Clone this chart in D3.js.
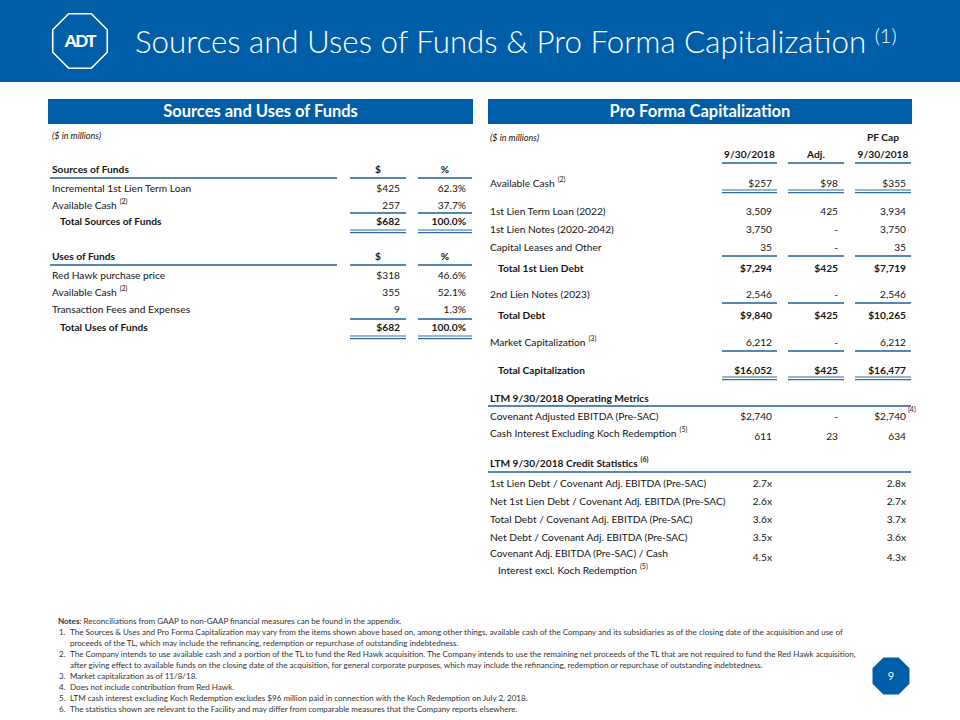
<!DOCTYPE html>
<html><head><meta charset="utf-8">
<script src="https://cdn.jsdelivr.net/npm/d3@7"></script>
<style>
body{margin:0;background:#fff}
svg{display:block}
text{font-family:Lato,"Open Sans",sans-serif}
</style>
</head><body>
<svg id="c" width="960" height="720"></svg>
<script>
// ---------------- DATA ----------------
const titleText = "Sources and Uses of Funds & Pro Forma Capitalization";
const titleNote = "(1)";
const leftHeader = "Sources and Uses of Funds";
const rightHeader = "Pro Forma Capitalization";
const unitsLabel = "($ in millions)";

const sourcesHead = ["Sources of Funds", "$", "%"];
const sourcesLabels = ["Incremental 1st Lien Term Loan", "Available Cash"];
const sourcesNotes = ["", "(2)"];
const sourcesDollars = [425, 257];
const sourcesPct = [62.3, 37.7];
const sourcesTotal = ["Total Sources of Funds", 682, 100.0];

const usesHead = ["Uses of Funds", "$", "%"];
const usesLabels = ["Red Hawk purchase price", "Available Cash", "Transaction Fees and Expenses"];
const usesNotes = ["", "(2)", ""];
const usesDollars = [318, 355, 9];
const usesPct = [46.6, 52.1, 1.3];
const usesTotal = ["Total Uses of Funds", 682, 100.0];

const capColumns = ["9/30/2018", "Adj.", "9/30/2018"];
const capTopHead = "PF Cap";
const capLabels = ["Available Cash", "1st Lien Term Loan (2022)", "1st Lien Notes (2020-2042)",
  "Capital Leases and Other", "Total 1st Lien Debt", "2nd Lien Notes (2023)", "Total Debt",
  "Market Capitalization", "Total Capitalization"];
const capNotes = ["(2)", "", "", "", "", "", "", "(3)", ""];
const capCurrent = [257, 3509, 3750, 35, 7294, 2546, 9840, 6212, 16052];
const capAdj = [98, 425, 0, 0, 425, 0, 425, 0, 425];
const capPF = [355, 3934, 3750, 35, 7719, 2546, 10265, 6212, 16477];

const opTitle = "LTM 9/30/2018 Operating Metrics";
const opLabels = ["Covenant Adjusted EBITDA (Pre-SAC)", "Cash Interest Excluding Koch Redemption"];
const opNotes = ["", "(5)"];
const opCurrent = [2740, 611];
const opAdj = [0, 23];
const opPF = [2740, 634];
const opPFNotes = ["(4)", ""];

const creditTitle = "LTM 9/30/2018 Credit Statistics";
const creditTitleNote = "(6)";
const creditLabels = ["1st Lien Debt / Covenant Adj. EBITDA (Pre-SAC)",
  "Net 1st Lien Debt / Covenant Adj. EBITDA (Pre-SAC)",
  "Total Debt / Covenant Adj. EBITDA (Pre-SAC)",
  "Net Debt / Covenant Adj. EBITDA (Pre-SAC)",
  "Covenant Adj. EBITDA (Pre-SAC) / Cash"];
const creditCont = "Interest excl. Koch Redemption";
const creditContNote = "(5)";
const creditCurrent = [2.7, 2.6, 3.6, 3.5, 4.5];
const creditPF = [2.8, 2.7, 3.7, 3.6, 4.3];

const notesLead = "Notes";
const notesIntro = ": Reconciliations from GAAP to non-GAAP financial measures can be found in the appendix.";
const notesItems = [
  ["The Sources & Uses and Pro Forma Capitalization may vary from the items shown above based on, among other things, available cash of the Company and its subsidiaries as of the closing date of the acquisition and use of",
   "proceeds of the TL, which may include the refinancing, redemption or repurchase of outstanding indebtedness."],
  ["The Company intends to use available cash and a portion of the TL to fund the Red Hawk acquisition. The Company intends to use the remaining net proceeds of the TL that are not required to fund the Red Hawk acquisition,",
   "after giving effect to available funds on the closing date of the acquisition, for general corporate purposes, which may include the refinancing, redemption or repurchase of outstanding indebtedness."],
  ["Market capitalization as of 11/8/18."],
  ["Does not include contribution from Red Hawk."],
  ["LTM cash interest excluding Koch Redemption excludes $96 million paid in connection with the Koch Redemption on July 2, 2018."],
  ["The statistics shown are relevant to the Facility and may differ from comparable measures that the Company reports elsewhere."]
];
const pageNumber = "9";

// ---------------- LAYOUT / STYLE ----------------
const BLUE = "#005EA8";
const RULE = "#1F5F9E";
const INK = "#151515";
const FS = 10.2;

const svg = d3.select("#c");
const fmtInt = d3.format(",");
const fmtPct = d3.format(".1f");
const fmtX = d3.format(".1f");

// header band
svg.append("rect").attr("x", 0).attr("y", 0).attr("width", 960).attr("height", 82).attr("fill", BLUE);

function octagon(cx, cy, r) {
  return d3.line()(d3.range(8).map(i => {
    const a = Math.PI / 8 + i * Math.PI / 4;
    return [cx + r * Math.cos(a), cy + r * Math.sin(a)];
  })) + "Z";
}
svg.append("path").attr("d", octagon(80, 41, 29.5)).attr("fill", "none")
  .attr("stroke", "#fff").attr("stroke-width", 1.6);
svg.append("text").attr("x", 80).attr("y", 47).attr("text-anchor", "middle")
  .attr("fill", "#fff").attr("font-size", 17).attr("font-weight", 900)
  .attr("letter-spacing", -1.5).text("ADT");

const tt = svg.append("text").attr("x", 135).attr("y", 53).attr("fill", "#fff")
  .attr("font-size", 31.3).attr("font-weight", 300);
tt.append("tspan").text(titleText + " ");
tt.append("tspan").attr("font-size", 20).attr("dy", -10).text(titleNote);

// section bars
function sectionBar(x0, x1, label) {
  svg.append("rect").attr("x", x0).attr("y", 99).attr("width", x1 - x0).attr("height", 25).attr("fill", BLUE);
  svg.append("text").attr("x", (x0 + x1) / 2).attr("y", 117).attr("text-anchor", "middle")
    .attr("fill", "#fff").attr("font-size", 16.5).attr("font-weight", 700).text(label);
}
sectionBar(48, 473, leftHeader);
sectionBar(488, 912, rightHeader);

// generic helpers
function label(x, y, txt, note, bold, size) {
  const t = svg.append("text").attr("x", x).attr("y", y).attr("dy", "0.36em")
    .attr("fill", INK).attr("font-size", size || FS).attr("font-weight", bold ? 700 : 400);
  t.append("tspan").text(txt);
  if (note) t.append("tspan").attr("font-size", 7).attr("dy", -4.5).attr("dx", 3).text(note);
  return t;
}
function value(x, y, txt, bold, anchor) {
  return svg.append("text").attr("x", x).attr("y", y).attr("dy", "0.36em")
    .attr("text-anchor", anchor || "end").attr("fill", INK).attr("font-size", FS)
    .attr("font-weight", bold ? 700 : 400).text(txt);
}
function rule(x0, x1, y) {
  svg.append("line").attr("x1", x0).attr("x2", x1).attr("y1", y).attr("y2", y)
    .attr("stroke", RULE).attr("stroke-width", 1.7);
}
function dbl(x0, x1, y) {
  [y, y + 2.6].forEach(yy => svg.append("line").attr("x1", x0).attr("x2", x1).attr("y1", yy).attr("y2", yy)
    .attr("stroke", "#2F6BA8").attr("stroke-width", 1.1));
}

// ---------------- LEFT TABLE ----------------
const lx = d3.scaleOrdinal().domain(["label", "indent", "usd", "pct"]).range([52, 60, 400, 466]);
const lSpan = { label: [50, 337], usd: [350, 406], pct: [418, 472] };
label(52, 136, unitsLabel, "", false, 9).attr("font-style", "italic");

function leftBlock(head, labels, notes, dollars, pcts, total, yHead, rowYs, yTotal) {
  label(lx("label"), yHead, head[0], "", true);
  value((lSpan.usd[0] + lSpan.usd[1]) / 2, yHead, head[1], true, "middle");
  value((lSpan.pct[0] + lSpan.pct[1]) / 2, yHead, head[2], true, "middle");
  Object.values(lSpan).forEach(s => rule(s[0], s[1], yHead + 9));
  labels.forEach((l, i) => {
    label(lx("label"), rowYs[i], l, notes[i], false);
    value(lx("usd"), rowYs[i], (i === 0 ? "$" : "") + fmtInt(dollars[i]), false);
    value(lx("pct"), rowYs[i], fmtPct(pcts[i]) + "%", false);
  });
  const yr = yTotal - 8;
  rule(lSpan.usd[0], lSpan.usd[1], yr);
  rule(lSpan.pct[0], lSpan.pct[1], yr);
  label(lx("indent"), yTotal, total[0], "", true);
  value(lx("usd"), yTotal, "$" + fmtInt(total[1]), true);
  value(lx("pct"), yTotal, fmtPct(total[2]) + "%", true);
  dbl(lSpan.usd[0], lSpan.usd[1], yTotal + 9);
  dbl(lSpan.pct[0], lSpan.pct[1], yTotal + 9);
}
leftBlock(sourcesHead, sourcesLabels, sourcesNotes, sourcesDollars, sourcesPct, sourcesTotal, 169, [188, 205], 221);
leftBlock(usesHead, usesLabels, usesNotes, usesDollars, usesPct, usesTotal, 256, [275, 292, 309], 327);

// ---------------- RIGHT TABLE ----------------
const rx = d3.scaleOrdinal().domain(["label", "indent", "cur", "adj", "pf"]).range([490, 498, 772, 838, 906]);
const rSpan = { cur: [722, 777], adj: [788, 844], pf: [855, 911] };
const rCols = ["cur", "adj", "pf"];
label(490, 138, unitsLabel, "", false, 9).attr("font-style", "italic");
value((rSpan.pf[0] + rSpan.pf[1]) / 2, 137, capTopHead, true, "middle");
capColumns.forEach((c, i) => {
  const s = rSpan[rCols[i]];
  value((s[0] + s[1]) / 2, 154, c, true, "middle");
  rule(s[0], s[1], 163);
});

const capRowY = [183, 211, 229, 247, 268, 294, 315, 342, 370];
const capBold = [false, false, false, false, true, false, true, false, true];
const capDollar = [true, false, false, false, true, false, true, false, true];
const capRuleAfter = ["double", "", "", "single", "", "single", "", "single", "double"];
const fmtCap = (v, d, isAdj) => (isAdj && v === 0) ? "-" : (d ? "$" : "") + fmtInt(v);

capLabels.forEach((l, i) => {
  const y = capRowY[i];
  label(capBold[i] ? rx("indent") : rx("label"), y, l, capNotes[i], capBold[i]);
  value(rx("cur"), y, fmtCap(capCurrent[i], capDollar[i]), capBold[i]);
  value(rx("adj"), y, fmtCap(capAdj[i], capDollar[i], true), capBold[i]);
  value(rx("pf"), y, fmtCap(capPF[i], capDollar[i]), capBold[i]);
  const kind = capRuleAfter[i];
  const ry = y + (kind === "double" ? 7 : 9);
  rCols.forEach(c => {
    if (kind === "double") dbl(rSpan[c][0], rSpan[c][1], ry);
    else if (kind === "single") rule(rSpan[c][0], rSpan[c][1], ry);
  });
});

// operating metrics
label(490, 398, opTitle, "", true);
rule(488, 911, 406);
const opRowY = [416, 433];
const opValY = [416, 436];
opLabels.forEach((l, i) => {
  label(490, opRowY[i], l, opNotes[i], false);
  value(rx("cur"), opValY[i], fmtCap(opCurrent[i], i === 0), false);
  value(rx("adj"), opValY[i], fmtCap(opAdj[i], i === 0, true), false);
  value(rx("pf"), opValY[i], fmtCap(opPF[i], i === 0), false);
  if (opPFNotes[i]) svg.append("text").attr("x", rx("pf") + 2).attr("y", opValY[i] - 4)
    .attr("fill", INK).attr("font-size", 7).text(opPFNotes[i]);
});

// credit statistics
label(490, 463, creditTitle, creditTitleNote, true);
rule(488, 911, 472);
const crRowY = [483, 501, 519, 537, 553];
const crValY = [483, 501, 519, 537, 557];
creditLabels.forEach((l, i) => {
  label(490, crRowY[i], l, "", false);
  value(rx("cur"), crValY[i], fmtX(creditCurrent[i]) + "x", false);
  value(rx("pf"), crValY[i], fmtX(creditPF[i]) + "x", false);
});
label(498, 570, creditCont, creditContNote, false);

// ---------------- NOTES ----------------
const NFS = 8.05;
const NC = "#333";
const nt = svg.append("text").attr("x", 58).attr("y", 621).attr("dy", "0.36em")
  .attr("font-size", NFS).attr("fill", NC);
nt.append("tspan").attr("font-weight", 700).text(notesLead);
nt.append("tspan").text(notesIntro);
let ny = 632;
notesItems.forEach((lines, i) => {
  svg.append("text").attr("x", 59).attr("y", ny).attr("dy", "0.36em")
    .attr("font-size", NFS).attr("fill", NC).text((i + 1) + ".");
  lines.forEach(line => {
    svg.append("text").attr("x", 70).attr("y", ny).attr("dy", "0.36em")
      .attr("font-size", NFS).attr("fill", NC).text(line);
    ny += 11;
  });
});

// page number
svg.append("path").attr("d", octagon(891, 676, 20)).attr("fill", BLUE);
svg.append("text").attr("x", 891).attr("y", 676).attr("dy", "0.36em").attr("text-anchor", "middle")
  .attr("fill", "#fff").attr("font-size", 11).text(pageNumber);
</script>
</body></html>
